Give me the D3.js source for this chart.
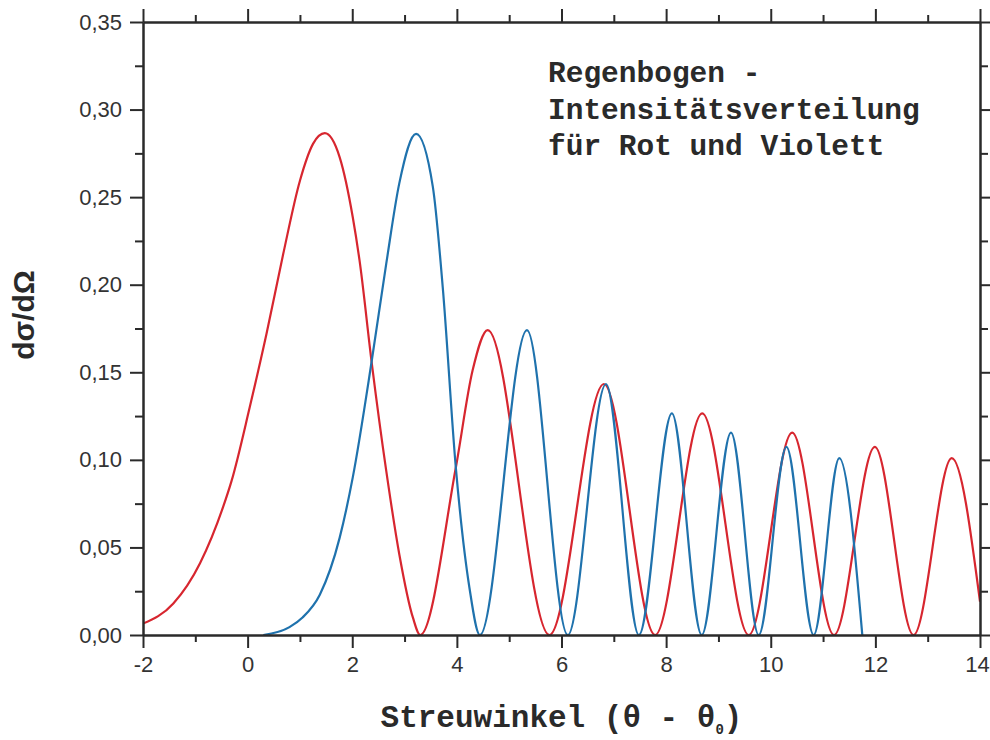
<!DOCTYPE html>
<html>
<head>
<meta charset="utf-8">
<script src="https://cdn.jsdelivr.net/npm/d3@7"></script>
<style>
  html, body { margin: 0; padding: 0; background: #ffffff; }
  svg { display: block; }
</style>
</head>
<body>
<svg id="chart" width="990" height="740"></svg>
<script>
// ---- Data ----
const redX = [-2.0, -1.42, -0.91, -0.47, -0.307, 0.04, 0.36, 0.68, 1.00, 1.25, 1.475, 1.76, 2.01, 2.14, 2.37, 2.65, 2.90, 3.16, 3.30,
              3.98, 4.30, 4.59, 5.77, 6.81, 7.79, 8.69, 9.58, 10.41, 11.21, 11.99, 12.73, 13.46, 14.0];
const redY = [0.0065, 0.018, 0.041, 0.073, 0.088, 0.130, 0.1718, 0.2175, 0.2594, 0.2804, 0.2865, 0.2727, 0.2385, 0.2137, 0.156, 0.0937, 0.046, 0.0099, 0.0,
              0.0956, 0.151, 0.1741, 0.0, 0.1433, 0.0, 0.1265, 0.0, 0.1156, 0.0, 0.1074, 0.0, 0.101, 0.019];

const violetX = [0.30, 0.80, 1.05, 1.38, 1.76, 2.01, 2.37, 2.65, 2.90, 3.22, 3.54, 3.73, 3.98, 4.24, 4.44,
                 5.34, 6.12, 6.85, 7.48, 8.11, 8.68, 9.24, 9.77, 10.30, 10.82, 11.31, 11.75];
const violetY = [0.0, 0.0045, 0.010, 0.023, 0.0556, 0.090, 0.156, 0.212, 0.258, 0.2861, 0.256, 0.1985, 0.0956, 0.027, 0.0,
                 0.1741, 0.0, 0.1433, 0.0, 0.1265, 0.0, 0.1156, 0.0, 0.1074, 0.0, 0.101, 0.0];

const xTicks = [-2, 0, 2, 4, 6, 8, 10, 12, 14];
const xMinorTicks = [-1, 1, 3, 5, 7, 9, 11, 13];
const yTicks = [0, 0.05, 0.10, 0.15, 0.20, 0.25, 0.30, 0.35];
const yMinorTicks = [0.025, 0.075, 0.125, 0.175, 0.225, 0.275, 0.325];

const annotationLines = ["Regenbogen -", "Intensitätsverteilung", "für Rot und Violett"];
const xTitle = "Streuwinkel (θ - θ";
const xTitleSub = "0";
const yTitle = "dσ/dΩ";

// ---- Layout ----
const svg = d3.select("#chart");
const mLeft = 143, mRight = 980, mTop = 22, mBottom = 635;

const x = d3.scaleLinear().domain([-2, 14]).range([mLeft, mRight]);
const y = d3.scaleLinear().domain([0, 0.35]).range([mBottom, mTop]);

const axisColor = "#2a2a2a";
const tickFont = "'Liberation Sans', Arial, sans-serif";
const monoFont = "'Liberation Mono', 'Courier New', monospace";
const fmt = v => d3.format(".2f")(v).replace(".", ",");

// Curves (clipped to plot area)
svg.append("defs").append("clipPath").attr("id", "clip")
  .append("rect").attr("x", mLeft).attr("y", mTop).attr("width", mRight - mLeft).attr("height", mBottom - mTop);

const line = d3.line().x(d => x(d[0])).y(d => y(d[1])).curve(d3.curveMonotoneX);
const redData = redX.map((v, i) => [v, redY[i]]);
const violetData = violetX.map((v, i) => [v, violetY[i]]);

const g = svg.append("g").attr("clip-path", "url(#clip)");
g.append("path").datum(redData).attr("d", line)
  .attr("fill", "none").attr("stroke", "#d7262f").attr("stroke-width", 2.2);
g.append("path").datum(violetData).attr("d", line)
  .attr("fill", "none").attr("stroke", "#1f72ad").attr("stroke-width", 2.2);

// Axes
function styleAxis(sel) {
  sel.selectAll("path.domain").attr("stroke", axisColor).attr("stroke-width", 2);
  sel.selectAll(".tick line").attr("stroke", axisColor).attr("stroke-width", 2);
  sel.selectAll(".tick text").attr("fill", "#333").style("font-family", tickFont).style("font-size", "22px");
}

// bottom
const bAxis = svg.append("g").attr("transform", `translate(0,${mBottom})`)
  .call(d3.axisBottom(x).tickValues(xTicks).tickSize(13).tickSizeOuter(0).tickPadding(8).tickFormat(d => String(d)));
styleAxis(bAxis);
bAxis.selectAll(".tick text").filter(d => d === 14).attr("dx", "-3");
const bMinor = svg.append("g").attr("transform", `translate(0,${mBottom})`)
  .call(d3.axisBottom(x).tickValues(xMinorTicks).tickSize(7).tickSizeOuter(0).tickFormat(""));
styleAxis(bMinor);

// top
const tAxis = svg.append("g").attr("transform", `translate(0,${mTop})`)
  .call(d3.axisTop(x).tickValues(xTicks).tickSize(13).tickSizeOuter(0).tickFormat(""));
styleAxis(tAxis);
const tMinor = svg.append("g").attr("transform", `translate(0,${mTop})`)
  .call(d3.axisTop(x).tickValues(xMinorTicks).tickSize(7).tickSizeOuter(0).tickFormat(""));
styleAxis(tMinor);

// left
const lAxis = svg.append("g").attr("transform", `translate(${mLeft},0)`)
  .call(d3.axisLeft(y).tickValues(yTicks).tickSize(13).tickSizeOuter(0).tickPadding(8).tickFormat(fmt));
styleAxis(lAxis);
const lMinor = svg.append("g").attr("transform", `translate(${mLeft},0)`)
  .call(d3.axisLeft(y).tickValues(yMinorTicks).tickSize(8).tickSizeOuter(0).tickFormat(""));
styleAxis(lMinor);

// right
const rAxis = svg.append("g").attr("transform", `translate(${mRight},0)`)
  .call(d3.axisRight(y).tickValues(yTicks).tickSize(13).tickSizeOuter(0).tickFormat(""));
styleAxis(rAxis);
const rMinor = svg.append("g").attr("transform", `translate(${mRight},0)`)
  .call(d3.axisRight(y).tickValues(yMinorTicks).tickSize(8).tickSizeOuter(0).tickFormat(""));
styleAxis(rMinor);

// Annotation
const ann = svg.append("text")
  .attr("x", 548).attr("y", 82)
  .attr("fill", "#2a2a2a")
  .style("font-family", monoFont).style("font-weight", "bold").style("font-size", "29.5px");
annotationLines.forEach((t, i) => {
  ann.append("tspan").attr("x", 548).attr("y", 82 + i * 36.5).text(t);
});

// X title
const xt = svg.append("text")
  .attr("x", (mLeft + mRight) / 2).attr("y", 727)
  .attr("text-anchor", "middle")
  .attr("fill", "#2a2a2a")
  .style("font-family", monoFont).style("font-weight", "bold").style("font-size", "31px");
xt.append("tspan").text(xTitle);
xt.append("tspan").attr("dy", 7).style("font-size", "14px").text(xTitleSub);
xt.append("tspan").attr("dy", -7).text(")");

// Y title
svg.append("text")
  .attr("transform", `translate(23,315) rotate(-90)`)
  .attr("text-anchor", "middle")
  .attr("dy", "0.35em")
  .attr("fill", "#2a2a2a")
  .style("font-family", "'Liberation Sans', Arial, sans-serif")
  .style("font-weight", "bold").style("font-size", "30px")
  .text(yTitle);
</script>
</body>
</html>
